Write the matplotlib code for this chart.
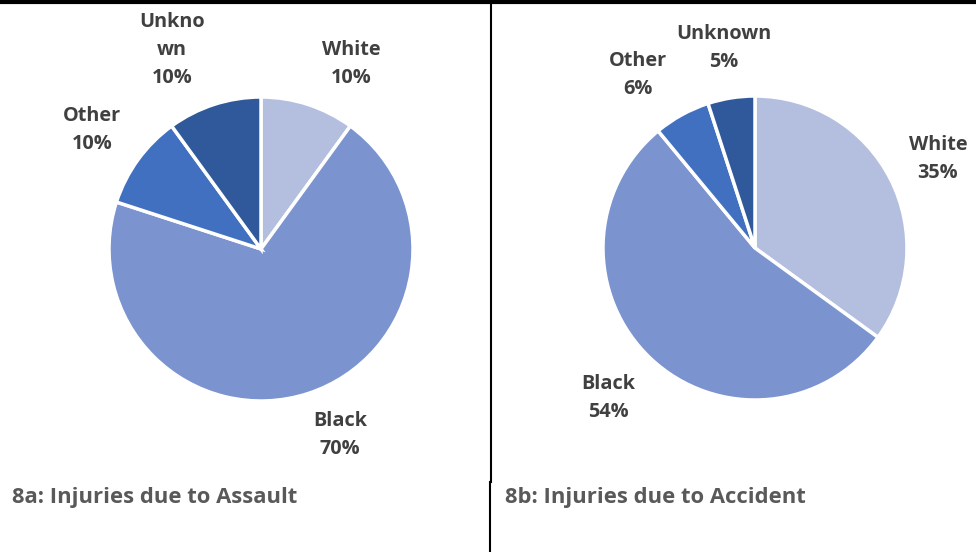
import matplotlib
matplotlib.use("Agg")
from matplotlib import pyplot as plt
from matplotlib.lines import Line2D

# racial breakdown of injuries
groups = ["White", "Black", "Other", "Unknown"]
assault = [10, 70, 10, 10]
accident = [35, 54, 6, 5]
colors = ["#B4BFDF", "#7B93CF", "#4270C0", "#30599B"]

plt.rcParams["font.family"] = ["Open Sans", "DejaVu Sans"]
W, H = 976, 552
fig = plt.figure(figsize=(W / 100, H / 100), dpi=100)


def pie_axes(cx, cy, r):
    ax = fig.add_axes([(cx - r) / W, (H - cy - r) / H, 2 * r / W, 2 * r / H])
    return ax


def draw_pie(ax, values):
    ax.pie(values, colors=colors, startangle=90, counterclock=False,
           wedgeprops=dict(edgecolor="white", linewidth=2.5))
    ax.set_xlim(-1, 1)
    ax.set_ylim(-1, 1)
    ax.set_aspect("equal")


def label(x, y, txt):
    fig.text(x / W, 1 - y / H, txt, ha="center", va="center", fontsize=14.3,
             fontweight="bold", color="#404040", linespacing=1.56)


ax1 = pie_axes(261, 249, 152)
draw_pie(ax1, assault)
ax2 = pie_axes(755, 248, 152)
draw_pie(ax2, accident)

# labels for left pie
label(351, 64, "White\n%d%%" % assault[0])
label(340, 435, "Black\n%d%%" % assault[1])
label(92, 130, "Other\n%d%%" % assault[2])
label(172, 50, "Unkno\nwn\n%d%%" % assault[3])

# labels for right pie
label(938, 159, "White\n%d%%" % accident[0])
label(608, 398, "Black\n%d%%" % accident[1])
label(638, 75, "Other\n%d%%" % accident[2])
label(724, 48, "Unknown\n%d%%" % accident[3])

fig.text(12 / W, 1 - 497 / H, "8a: Injuries due to Assault", ha="left", va="center",
         fontsize=15.8, fontweight="bold", color="#595959")
fig.text(505 / W, 1 - 497 / H, "8b: Injuries due to Accident", ha="left", va="center",
         fontsize=15.8, fontweight="bold", color="#595959")

# table borders
fig.add_artist(Line2D([0, 1], [1 - 1.5 / H, 1 - 1.5 / H], color="black", lw=3))
fig.add_artist(Line2D([491 / W, 491 / W], [1, 1 - 482 / H], color="black", lw=1.5))
fig.add_artist(Line2D([490 / W, 490 / W], [1 - 482 / H, 0], color="black", lw=1.5))

fig.savefig("out.png", dpi=100)
